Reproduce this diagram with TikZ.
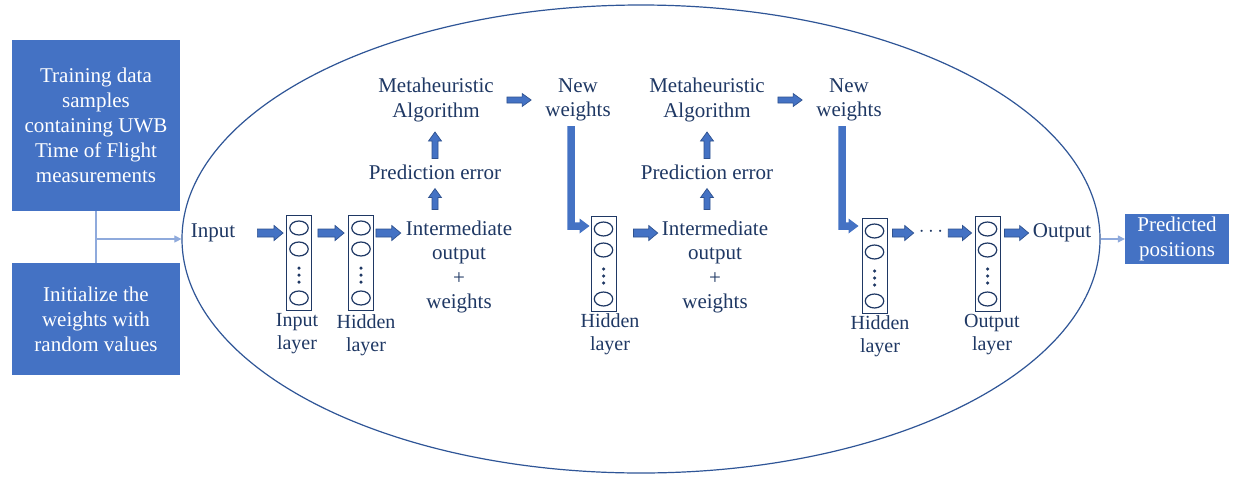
\documentclass[tikz,border=0pt]{standalone}
\usepackage{fontspec}
\setmainfont{Liberation Serif}
\usetikzlibrary{shapes.geometric,arrows.meta,calc}

\definecolor{boxblue}{HTML}{4472C4}
\definecolor{navy}{HTML}{1F3864}
\definecolor{ringblue}{HTML}{2F5597}
\definecolor{linkblue}{HTML}{8FAADC}
\definecolor{arrowedge}{HTML}{2F528F}

% block-arrow dimensions: half shaft, half head, head length
\newcommand\arrS{4pt}
\newcommand\arrH{7.5pt}
\newcommand\arrL{9pt}

\tikzset{
  bigarrow/.code={\def\arrS{4pt}\def\arrH{7.5pt}\def\arrL{9pt}},
  thinarrow/.code={\def\arrS{3pt}\def\arrH{6.5pt}\def\arrL{9pt}},
  elbowarrow/.code={\def\arrS{3.75pt}\def\arrH{7.5pt}\def\arrL{10pt}},
  blockarrow/.style={fill=boxblue, draw=arrowedge, line width=0.7pt, line join=miter},
  hblock/.style={blockarrow, to path={let \p1=(\tikztostart), \p2=(\tikztotarget) in
      (\x1,\y1+\arrS) -- (\x2-\arrL,\y1+\arrS) -- (\x2-\arrL,\y1+\arrH) -- (\x2,\y1)
      -- (\x2-\arrL,\y1-\arrH) -- (\x2-\arrL,\y1-\arrS) -- (\x1,\y1-\arrS) -- cycle}},
  vblock/.style={blockarrow, to path={let \p1=(\tikztostart), \p2=(\tikztotarget) in
      (\x1-\arrS,\y1) -- (\x1-\arrS,\y2-\arrL) -- (\x1-\arrH,\y2-\arrL) -- (\x1,\y2)
      -- (\x1+\arrH,\y2-\arrL) -- (\x1+\arrS,\y2-\arrL) -- (\x1+\arrS,\y1) -- cycle}},
  lblock/.style={fill=boxblue, draw=none, to path={let \p1=(\tikztostart), \p2=(\tikztotarget) in
      (\x1-\arrS,\y1) -- (\x1-\arrS,\y2-\arrS) -- (\x2-\arrL,\y2-\arrS) -- (\x2-\arrL,\y2-\arrH)
      -- (\x2,\y2) -- (\x2-\arrL,\y2+\arrH) -- (\x2-\arrL,\y2+\arrS) -- (\x1+\arrS,\y2+\arrS)
      -- (\x1+\arrS,\y1) -- cycle}},
  lbl/.style={text=navy, font=\fontsize{21}{24.5}\selectfont, align=center, inner sep=0pt},
  lbl2/.style={text=navy, font=\fontsize{20}{23}\selectfont, align=center, inner sep=0pt},
  bluebox/.style={fill=boxblue, text=white, font=\fontsize{21}{25}\selectfont, align=center, inner sep=0pt},
  layerbox/.style={draw=navy, line width=0.9pt, minimum width=25pt, minimum height=95pt, inner sep=0pt},
  neuron/.style={ellipse, draw=navy, line width=1.2pt, minimum width=18.5pt, minimum height=14pt, inner sep=0pt},
  ndot/.style={circle, fill=navy, minimum size=3.5pt, inner sep=0pt},
  link/.style={draw=linkblue, line width=1.1pt, -{Triangle[length=7pt,width=7pt]}},
}

% one layer of neurons: name, centre x, top y
\newcommand\nnlayer[3]{%
  \node[layerbox] (#1) at (#2,#3+47.5) {};
  \node[neuron] (#1a) at (#2,#3+13) {};
  \node[neuron] (#1b) at (#2,#3+34) {};
  \node[ndot] (#1p) at (#2,#3+53) {};
  \node[ndot] (#1q) at (#2,#3+60) {};
  \node[ndot] (#1r) at (#2,#3+67) {};
  \node[neuron] (#1c) at (#2,#3+83) {};
}

\begin{document}
\begin{tikzpicture}[x=1pt, y=-1pt]
\fill[white] (0,0) rectangle (1233,477);
\useasboundingbox (0,0) rectangle (1233,477);

% inputs outside the network
\node[bluebox, minimum width=168pt, minimum height=171pt] (b1) at (96,125.5)
  {Training data\\samples\\containing UWB\\Time of Flight\\measurements};
\node[bluebox, minimum width=168pt, minimum height=112pt] (b2) at (96,319)
  {Initialize the\\weights with\\random values};

% network boundary
\node[ellipse, draw=ringblue, line width=1.2pt, minimum width=918pt, minimum height=468pt, inner sep=0pt] (ell) at (641,239) {};

\node[bluebox, minimum width=104pt, minimum height=50pt] (pred) at (1177,239) {Predicted\\positions};

\draw[draw=linkblue, line width=1.1pt] (b1.south) -- (b2.north);
\draw[link] (b1.south |- ell.west) -- (ell.west);
\draw[link] (ell.east) -- (pred.west);

% layers
\nnlayer{L1}{299}{215}
\nnlayer{L2}{361}{215}
\nnlayer{H2}{603.5}{216}
\nnlayer{H3}{874.5}{218}
\nnlayer{OL}{987.5}{216}

\node[lbl2] (L1t) at (297,334) {Input\\layer};
\node[lbl2] (L2t) at (366,335) {Hidden\\layer};
\node[lbl2] (H2t) at (610,334) {Hidden\\layer};
\node[lbl2] (H3t) at (880,336) {Hidden\\layer};
\node[lbl2] (OLt) at (992,335) {Output\\layer};

% texts
\node[lbl] (inp) at (213,233) {Input};
\node[lbl] (im1) at (459,267) {Intermediate\\output\\+\\weights};
\node[lbl] (pe1) at (435,172) {Prediction error};
\node[lbl] (ma1) at (436,100) {Metaheuristic\\Algorithm};
\node[lbl] (nw1) at (578,100) {New\\weights};
\node[lbl] (im2) at (715,267) {Intermediate\\output\\+\\weights};
\node[lbl] (pe2) at (707,172) {Prediction error};
\node[lbl] (ma2) at (707,100) {Metaheuristic\\Algorithm};
\node[lbl] (nw2) at (849,100) {New\\weights};
\node[lbl] (dots) at (931,232) {$\cdots$};
\node[lbl] (out) at (1062,233) {Output};

% forward pass
\draw[hblock, bigarrow] ([xshift=22pt]inp.east) to ([xshift=-3pt]L1.west |- inp);
\draw[hblock, bigarrow] ([xshift=6pt]L1.east |- inp) to ([xshift=-4pt]L2.west |- inp);
\draw[hblock, bigarrow] ([xshift=2pt]L2.east |- inp) to ([xshift=-5pt]im1.west |- inp);
\draw[hblock, bigarrow] ([xshift=17pt]H2.east |- inp) to ([xshift=-4pt]im2.west |- inp);
\draw[hblock, bigarrow] ([xshift=5pt]H3.east |- inp) to ([xshift=-5pt]dots.west |- inp);
\draw[hblock, bigarrow] ([xshift=5pt]dots.east |- inp) to ([xshift=-3pt]OL.west |- inp);
\draw[hblock, bigarrow] ([xshift=4pt]OL.east |- inp) to ([xshift=-4pt]out.west |- inp);

% weight updates
\draw[vblock, thinarrow] ([yshift=11pt]pe1.south |- im1.north) to ([yshift=-9pt]pe1.south);
\draw[vblock, thinarrow] ([yshift=6pt]pe1.north) to ([yshift=-10pt]ma1.south);
\draw[hblock, thinarrow] ([xshift=13pt]ma1.east) to ([xshift=-14pt]nw1.west |- ma1.east);
\draw[lblock, elbowarrow] ([xshift=-7pt,yshift=-4.5pt]nw1.south) to ([xshift=-1pt,yshift=3pt]H2.west |- H2a);

\draw[vblock, thinarrow] ([yshift=11pt]pe2.south |- im2.north) to ([yshift=-9pt]pe2.south);
\draw[vblock, thinarrow] ([yshift=6pt]pe2.north) to ([yshift=-10pt]ma2.south);
\draw[hblock, thinarrow] ([xshift=13pt]ma2.east) to ([xshift=-14pt]nw2.west |- ma2.east);
\draw[lblock, elbowarrow] ([xshift=-7pt,yshift=-4.5pt]nw2.south) to ([xshift=-3pt,yshift=5pt]H3.west |- H3a);
\end{tikzpicture}
\end{document}
